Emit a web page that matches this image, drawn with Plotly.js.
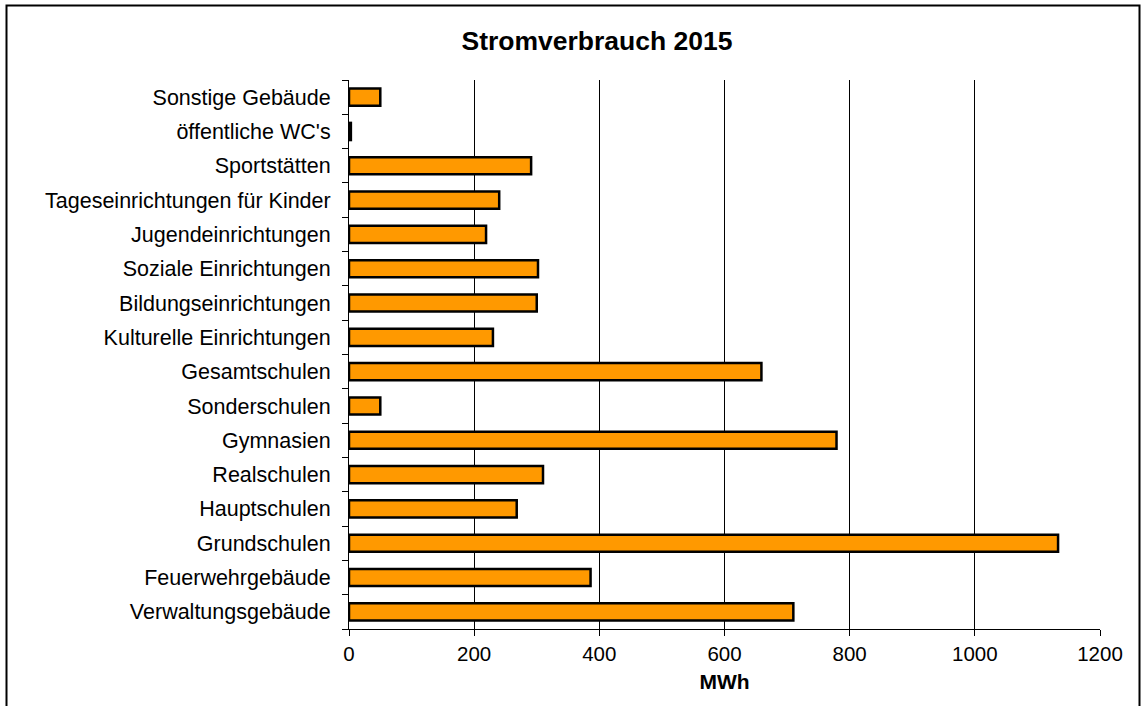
<!DOCTYPE html>
<html>
<head>
<meta charset="utf-8">
<script src="https://cdn.plot.ly/plotly-3.0.1.min.js"></script>
<style>
  html, body { margin: 0; padding: 0; background: #fff; }
  #chart { width: 1141px; height: 706px; }
</style>
</head>
<body>
<div id="chart"></div>
<script>
const categories = [
  "Verwaltungsgebäude",
  "Feuerwehrgebäude",
  "Grundschulen",
  "Hauptschulen",
  "Realschulen",
  "Gymnasien",
  "Sonderschulen",
  "Gesamtschulen",
  "Kulturelle Einrichtungen",
  "Bildungseinrichtungen",
  "Soziale Einrichtungen",
  "Jugendeinrichtungen",
  "Tageseinrichtungen für Kinder",
  "Sportstätten",
  "öffentliche WC's",
  "Sonstige Gebäude"
];
const values = [710, 386, 1133, 268, 310, 779, 50, 659, 230, 300, 302, 219, 240, 291, 3, 50];
const xTicks = [0, 200, 400, 600, 800, 1000, 1200];
const chartTitle = "Stromverbrauch 2015";
const xTitle = "MWh";

const font = "Liberation Sans, Arial, Helvetica, sans-serif";

const trace = {
  type: "bar",
  orientation: "h",
  y: categories,
  x: values,
  marker: { color: "#FF9900", line: { color: "#000000", width: 2.5 } },
  hoverinfo: "x+y"
};

const L = 349, R = 1100, T = 80, B = 629, W = 1141, H = 706;
const pw = R - L, ph = B - T;
function px(x) { return (x - L) / pw; }
function py(y) { return (B - y) / ph; }

const layout = {
  width: W, height: H,
  margin: { l: L, r: W - R, t: T, b: H - B, pad: 0 },
  paper_bgcolor: "#ffffff",
  plot_bgcolor: "#ffffff",
  font: { family: font, color: "#000000", size: 20 },
  title: {
    text: "<b>" + chartTitle + "</b>",
    font: { family: font, size: 26.5, color: "#000" },
    x: px(597), xref: "paper", xanchor: "center",
    y: 1 - 41 / H, yref: "container", yanchor: "middle"
  },
  bargap: 0.5,
  showlegend: false,
  xaxis: {
    range: [0, 1200],
    tickvals: xTicks,
    ticktext: xTicks.map(String),
    showgrid: true, gridcolor: "#000000", gridwidth: 1,
    zeroline: false,
    showline: true, linecolor: "#000000", linewidth: 1,
    ticks: "outside", ticklen: 6, tickcolor: "#000", tickwidth: 1,
    tickfont: { family: font, size: 20.5, color: "#000" },
    title: { text: "<b>" + xTitle + "</b>", font: { family: font, size: 21, color: "#000" }, standoff: 10 },
    fixedrange: true
  },
  yaxis: {
    type: "category",
    tickson: "boundaries",
    showgrid: false,
    zeroline: false,
    showline: true, linecolor: "#000000", linewidth: 1,
    ticks: "outside", ticklen: 6, tickcolor: "#000", tickwidth: 1,
    ticklabelstandoff: 13,
    tickfont: { family: font, size: 21.5, color: "#000" },
    fixedrange: true
  },
  shapes: [{
    type: "rect", xref: "paper", yref: "paper",
    x0: px(6.5), x1: px(1139.5), y0: py(712), y1: py(5.5),
    line: { color: "#000", width: 2 }, fillcolor: "rgba(0,0,0,0)", layer: "above"
  }]
};

Plotly.newPlot("chart", [trace], layout, { displayModeBar: false, staticPlot: true });
</script>
</body>
</html>
